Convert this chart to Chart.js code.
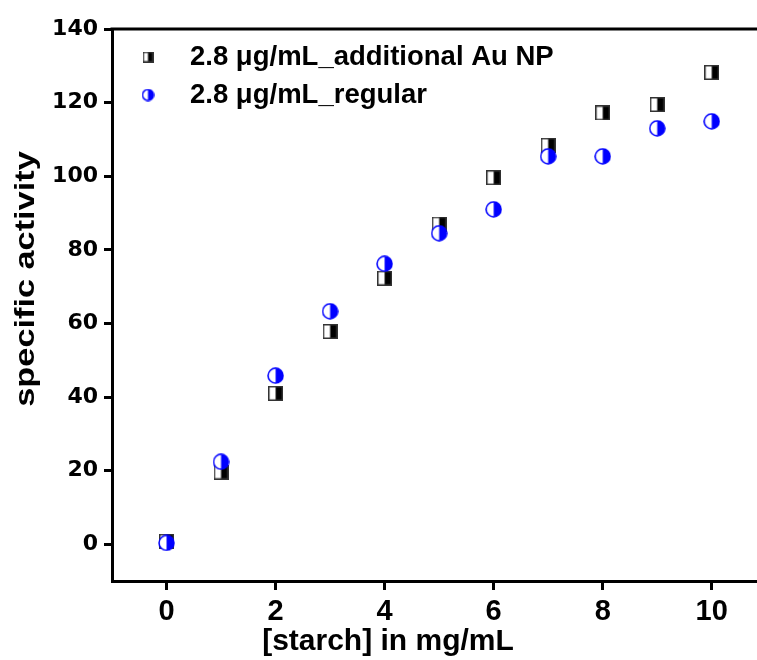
<!DOCTYPE html>
<html>
<head>
<meta charset="utf-8">
<script src="https://cdn.jsdelivr.net/npm/chart.js@4/dist/chart.umd.min.js"></script>
<style>
    html, body { margin: 0; padding: 0; background: #fff; }
    #wrap { width: 757px; height: 660px; }
</style>
</head>
<body>
<div id="wrap"><canvas id="graph"></canvas></div>
<script>
// starch concentration (mg/mL)
const starch = [0, 1, 2, 3, 4, 5, 6, 7, 8, 9, 10];
// specific activity, 2.8 ug/mL with additional Au NP
const additionalAuNP = [0.8, 19.6, 41, 57.8, 72.3, 87, 99.6, 108.4, 117.2, 119.5, 128.2];
// specific activity, 2.8 ug/mL regular
const regular = [0.35, 22.4, 45.8, 63.3, 76.2, 84.5, 91, 105.4, 105.4, 113, 114.9];

const xTicks = [0, 2, 4, 6, 8, 10];
const yTicks = [0, 20, 40, 60, 80, 100, 120, 140];
const seriesLabels = ['2.8 \u03bcg/mL_additional Au NP', '2.8 \u03bcg/mL_regular'];

function squareMarker(size) {
    const c = document.createElement('canvas');
    c.width = size; c.height = size;
    const g = c.getContext('2d');
    g.fillStyle = '#fff';
    g.fillRect(0, 0, size, size);
    g.fillStyle = '#000';
    g.fillRect(size / 2, 0, size / 2, size);
    g.strokeStyle = '#333';
    g.lineWidth = 1.5;
    g.strokeRect(0.75, 0.75, size - 1.5, size - 1.5);
    return c;
}

function circleMarker(size) {
    const c = document.createElement('canvas');
    c.width = size; c.height = size;
    const g = c.getContext('2d');
    const r = size / 2;
    g.fillStyle = '#fff';
    g.beginPath();
    g.arc(r, r, r - 1, 0, Math.PI * 2);
    g.fill();
    g.fillStyle = '#0000ff';
    g.beginPath();
    g.arc(r, r, r - 1, -Math.PI / 2, Math.PI / 2);
    g.closePath();
    g.fill();
    g.strokeStyle = '#0000ff';
    g.lineWidth = 1.5;
    g.beginPath();
    g.arc(r, r, r - 1, 0, Math.PI * 2);
    g.stroke();
    return c;
}

const markers = [squareMarker(15), circleMarker(17)];
const legendMarkers = [squareMarker(11), circleMarker(13)];

const decorations = {
    id: 'decorations',
    afterDraw(chart) {
        const ctx = chart.ctx;
        const area = chart.chartArea;
        ctx.save();
        // top frame line
        ctx.strokeStyle = '#000';
        ctx.lineWidth = 3;
        ctx.beginPath();
        ctx.moveTo(area.left - 1.5, area.top);
        ctx.lineTo(chart.width, area.top);
        ctx.stroke();

        // legend
        ctx.fillStyle = '#000';
        ctx.font = 'bold 27.5px "Liberation Sans", Arial, sans-serif';
        ctx.textBaseline = 'middle';
        const rows = [57, 95];
        seriesLabels.forEach((label, i) => {
            const m = legendMarkers[i];
            ctx.drawImage(m, 148 - m.width / 2, rows[i] - m.height / 2);
            ctx.fillText(label, 190, rows[i]);
        });

        // x title
        ctx.textAlign = 'center';
        ctx.font = 'bold 30px "Liberation Sans", Arial, sans-serif';
        ctx.fillText('[starch] in mg/mL', 388, 642);

        // y title
        ctx.translate(27, 279);
        ctx.rotate(-Math.PI / 2);
        ctx.scale(1.27, 1);
        ctx.font = 'bold 27px "Liberation Sans", Arial, sans-serif';
        ctx.fillText('specific activity', 0, 0);
        ctx.restore();
    }
};

const ctx = document.getElementById('graph').getContext('2d');
new Chart(ctx, {
    type: 'scatter',
    data: {
        datasets: [
            {
                label: seriesLabels[0],
                data: starch.map((x, i) => ({ x: x, y: additionalAuNP[i] })),
                pointStyle: markers[0],
                order: 2
            },
            {
                label: seriesLabels[1],
                data: starch.map((x, i) => ({ x: x, y: regular[i] })),
                pointStyle: markers[1],
                order: 1
            }
        ]
    },
    options: {
        responsive: true,
        maintainAspectRatio: false,
        animation: false,
        layout: { autoPadding: false, padding: { top: 29, right: 0, left: 0, bottom: 0 } },
        plugins: {
            legend: { display: false },
            tooltip: { enabled: false }
        },
        scales: {
            x: {
                type: 'linear',
                min: -1,
                max: 10.83,
                afterBuildTicks: scale => { scale.ticks = xTicks.map(v => ({ value: v })); },
                afterFit: scale => {
                    scale.height = 79;
                    scale.paddingLeft = 0;
                    scale.paddingRight = 0;
                },
                border: { display: true, color: '#000', width: 3 },
                grid: {
                    drawOnChartArea: false,
                    drawTicks: true,
                    tickLength: 9,
                    tickWidth: 3,
                    tickColor: '#000'
                },
                ticks: {
                    color: '#000',
                    padding: 5,
                    font: { family: '"Liberation Sans Narrow", "Liberation Sans", Arial, sans-serif', size: 29, weight: 'bold' }
                }
            },
            y: {
                min: -10,
                max: 140,
                afterBuildTicks: scale => { scale.ticks = yTicks.map(v => ({ value: v })); },
                afterFit: scale => {
                    scale.width = 112;
                    scale.paddingTop = 0;
                    scale.paddingBottom = 0;
                },
                border: { display: true, color: '#000', width: 3 },
                grid: {
                    drawOnChartArea: false,
                    drawTicks: true,
                    tickLength: 8,
                    tickWidth: 3,
                    tickColor: '#000'
                },
                ticks: {
                    color: '#000',
                    padding: 6,
                    font: { family: '"DejaVu Sans", sans-serif', size: 22, weight: 'bold' }
                }
            }
        }
    },
    plugins: [decorations]
});
</script>
</body>
</html>
